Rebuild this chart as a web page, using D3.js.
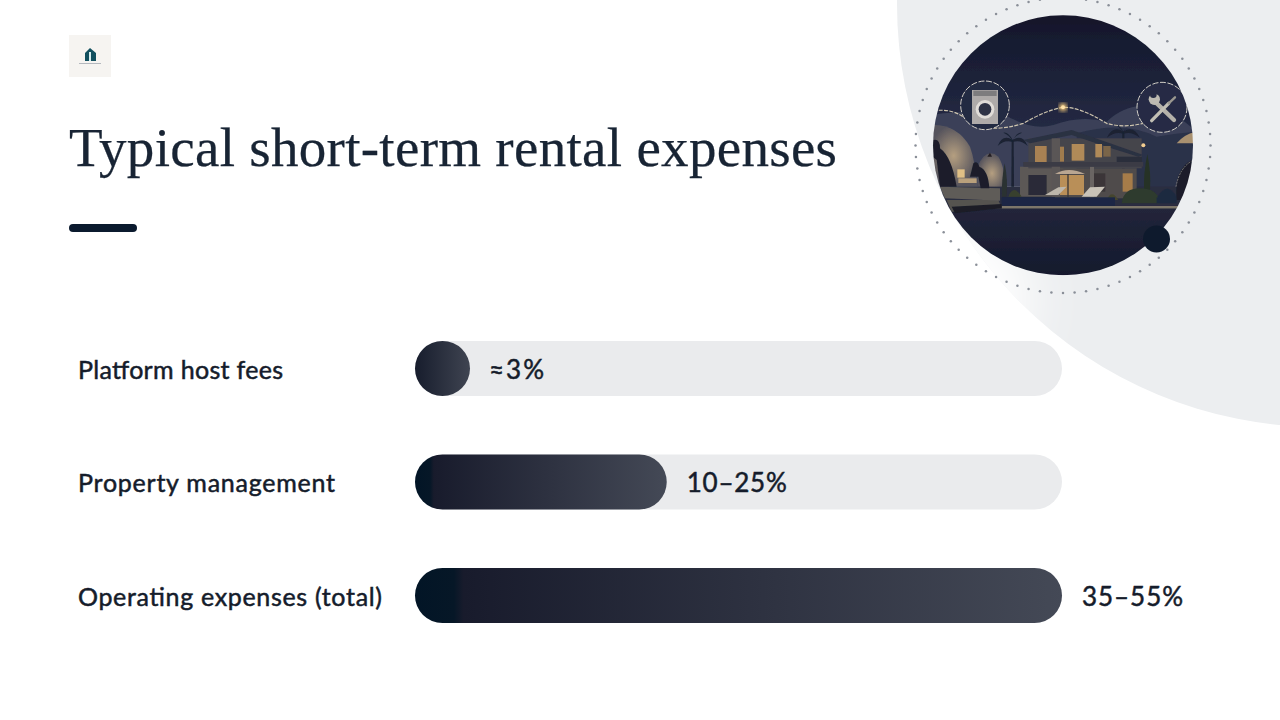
<!DOCTYPE html>
<html><head><meta charset="utf-8">
<style>html,body{margin:0;padding:0;background:#fff;overflow:hidden}svg{display:block}</style>
<script src="https://cdnjs.cloudflare.com/ajax/libs/d3/7.8.5/d3.min.js"></script>
</head><body><svg id="c" width="1280" height="720" viewBox="0 0 1280 720"></svg>
<script>
const titleText = "Typical short-term rental expenses";
const categories = ["Platform host fees", "Property management", "Operating expenses (total)"];
const barValues = [3, 21.4, 55];
const valueLabels = ["≈3%", "10–25%", "35–55%"];
const domainMax = 55;

const svg = d3.select("#c");
const defs = svg.append("defs");

// Bar gradient
const g1 = defs.append("linearGradient").attr("id","barGrad");
g1.append("stop").attr("offset","0%").attr("stop-color","#021526");
g1.append("stop").attr("offset","6%").attr("stop-color","#061727");
g1.append("stop").attr("offset","7.5%").attr("stop-color","#181b2c");
g1.append("stop").attr("offset","100%").attr("stop-color","#444956");
const g1b = defs.append("linearGradient").attr("id","barGradS");
g1b.append("stop").attr("offset","0%").attr("stop-color","#171d2d");
g1b.append("stop").attr("offset","100%").attr("stop-color","#3f4451");

// Background disc with soft white fade at its lower left
defs.append("clipPath").attr("id","bgClip").append("circle").attr("cx",1320).attr("cy",4).attr("r",423);
defs.append("filter").attr("id","fade").attr("x","-100%").attr("y","-100%").attr("width","300%").attr("height","300%")
  .append("feGaussianBlur").attr("stdDeviation",26);
svg.append("circle").attr("cx",1320).attr("cy",4).attr("r",423).attr("fill","#eceef0");
svg.append("g").attr("clip-path","url(#bgClip)").append("ellipse").attr("cx",945).attr("cy",300).attr("rx",85).attr("ry",85)
  .attr("fill","#ffffff").attr("filter","url(#fade)");

// Dotted ring
const ring = d3.range(80).map(i => i/80*2*Math.PI);
svg.append("g").selectAll("circle").data(ring).join("circle")
  .attr("cx",d=>1063+147.5*Math.cos(d)).attr("cy",d=>145.5+147.5*Math.sin(d))
  .attr("r",1.25).attr("fill","#8a8f98");

// Illustration, in a 3x working space
defs.append("clipPath").attr("id","photoClip").append("circle").attr("cx",519).attr("cy",436).attr("r",390);
defs.append("filter").attr("id","soft").append("feGaussianBlur").attr("stdDeviation",2);
defs.append("filter").attr("id","glow").append("feGaussianBlur").attr("stdDeviation",7);
const sky = defs.append("linearGradient").attr("id","sky").attr("x1",0).attr("y1",0).attr("x2",0).attr("y2",1);
sky.append("stop").attr("offset","0%").attr("stop-color","#12162a");
sky.append("stop").attr("offset","100%").attr("stop-color","#272d48");
const wall = defs.append("radialGradient").attr("id","warm");
wall.append("stop").attr("offset","0%").attr("stop-color","#b59f80");
wall.append("stop").attr("offset","100%").attr("stop-color","#55535c");
const groundG = defs.append("linearGradient").attr("id","ground").attr("x1",0).attr("y1",0).attr("x2",0).attr("y2",1);
groundG.append("stop").attr("offset","0%").attr("stop-color","#22253a");
groundG.append("stop").attr("offset","100%").attr("stop-color","#14192d");

const art = svg.append("g").attr("transform","translate(890,0) scale(0.33333)");
const p = art.append("g").attr("clip-path","url(#photoClip)").append("g").attr("filter","url(#soft)");
const rect=(x,y,w,h,f)=>p.append("rect").attr("x",x).attr("y",y).attr("width",w).attr("height",h).attr("fill",f);
const path=(d,f)=>p.append("path").attr("d",d).attr("fill",f);

rect(120,40,800,400,"url(#sky)");
path("M120 345 Q230 330 330 335 Q420 395 490 375 Q570 345 650 365 Q720 300 800 325 Q860 340 920 395 L920 560 L120 560Z","#3a4058");
path("M560 400 Q700 360 800 410 Q860 400 920 395 L920 620 L560 620Z","#2b3149");
path("M120 375 Q200 370 240 440 Q255 480 262 560 L120 560Z","url(#warm)");
path("M262 500 Q290 440 325 470 Q345 500 350 580 L262 580Z","url(#warm)");
path("M860 430 Q885 400 920 395 L920 430Z","#a9916f");
rect(120,560,800,70,"#2a2d40");
// Palms
[[368,420,1],[700,395,1.1]].forEach(([x,y,s])=>{
  path(`M${x-3} ${y} L${x+3} ${y} L${x+4} ${y+140} L${x-4} ${y+140}Z`,"#1a2233");
  path(`M${x} ${y} Q${x-30} ${y-20} ${x-45*s} ${y+18} Q${x-25} ${y-2} ${x} ${y+6} Q${x+25} ${y-2} ${x+45*s} ${y+18} Q${x+30} ${y-20} ${x} ${y}Z`,"#1a2233");
  path(`M${x} ${y} Q${x-14} ${y-26} ${x-28} ${y-22} Q${x-10} ${y-15} ${x} ${y+4} Q${x+14} ${y-26} ${x+28} ${y-22} Q${x+10} ${y-15} ${x} ${y}Z`,"#1a2233");
});
// House
rect(390,500,130,90,"#5c5856");
rect(415,525,55,60,"#2a2c38");
rect(415,415,340,90,"#45444c");
path("M400 420 L545 390 L660 430 L760 465 L745 470 L650 440 L545 405 L420 430Z","#2b3042");
rect(495,505,245,90,"#504c4c");
rect(500,525,82,60,"#b98f58");
rect(612,520,34,55,"#3a3538");
rect(698,520,30,55,"#a67c4a");
rect(435,438,35,55,"#a98252");
rect(510,440,12,45,"#a07c4e");
rect(545,432,38,50,"#b08a58");
rect(616,432,20,40,"#b08a58");
rect(640,438,22,32,"#7a6548");
rect(485,415,25,175,"#5a5656");
rect(600,500,12,92,"#6a6563");
rect(680,470,76,16,"#2a2d3b");
rect(400,486,360,14,"#3a3a44");
path("M495 522 Q535 498 585 522Z","#b9a692");
rect(532,522,4,70,"#3b3638");
// Cypress and shrubs
path("M772 462 Q784 520 780 570 L762 570 Q760 520 772 462Z","#263228");
path("M344 490 Q354 540 350 590 L336 590 Q334 540 344 490Z","#2a3030");
path("M695 610 Q700 565 750 565 Q805 565 810 610Z","#2d3a2e");
path("M355 590 Q370 550 395 590Z","#39402f");
path("M650 600 Q665 565 685 600Z","#45452e");
path("M800 595 Q830 540 860 590 L860 610 L800 610Z","#1f2c40");
// Loungers
path("M465 585 L505 585 L530 560 L505 562Z","#bdb7ac");
path("M575 590 L620 590 L645 560 L600 562Z","#c9c3b8");
// Pool and deck
rect(335,592,340,32,"#1c2844");
rect(335,618,540,8,"#7d776a");
// Ground
rect(120,626,800,200,"url(#ground)");
path("M170 600 L325 600 L335 625 L185 635Z","#55524f");
path("M150 560 L330 565 L330 602 L165 595Z","#5f5c59");
path("M185 620 L335 612 L335 625 L195 640Z","#1a1d28");
// Figures
path("M130 420 Q150 415 150 445 Q185 470 200 560 L150 560 L140 480 L128 470Z","#1b1f2c");
path("M250 490 Q262 480 268 500 Q295 510 298 565 L272 565 L265 530 L240 530Z","#1b1f2c");
rect(202,508,22,25,"#e0bf85");
rect(205,535,55,14,"#b9a07c");
path("M292 470 L306 470 L300 458Z","#221e22");
path("M860 600 Q850 510 905 480 L905 600Z","#1b1e2b");
path("M858 560 Q868 505 905 483","none").attr("stroke","#a9a59c").attr("stroke-width",2).attr("stroke-dasharray","6 3");
// Wave
path("M130 332 Q190 325 225 355 Q290 405 400 370 Q470 330 519 322 Q570 320 650 370 Q700 385 760 370","none")
  .attr("stroke","#cfc5af").attr("stroke-width",3.5).attr("stroke-dasharray","12 4");
path("M855 370 Q880 360 890 320","none").attr("stroke","#cfc5af").attr("stroke-width",3.5).attr("stroke-dasharray","12 4");
p.append("circle").attr("cx",519).attr("cy",322).attr("r",12).attr("fill","#f5c878").attr("filter","url(#glow)");
p.append("circle").attr("cx",519).attr("cy",322).attr("r",6).attr("fill","#ffe2a8");
p.append("circle").attr("cx",760).attr("cy",436).attr("r",6).attr("fill","#f1cc90");
// Washer
p.append("circle").attr("cx",285).attr("cy",316).attr("r",73).attr("fill","#232a42").attr("stroke","#d4d0c8").attr("stroke-width",3).attr("stroke-dasharray","18 5");
rect(246,270,78,102,"#aeaaa9");
rect(250,272,70,16,"#7d7b7e");
p.append("circle").attr("cx",285).attr("cy",328).attr("r",28).attr("fill","#e0dcd8");
p.append("circle").attr("cx",285).attr("cy",328).attr("r",19).attr("fill","#2d3044");
// Tools
p.append("circle").attr("cx",816).attr("cy",322).attr("r",75).attr("fill","#262c44").attr("stroke","#d4d0c8").attr("stroke-width",3).attr("stroke-dasharray","18 5");
const tool=(d,w,c)=>path(d,"none").attr("stroke",c).attr("stroke-width",w).attr("stroke-linecap","round");
tool("M795 305 L852 360",13,"#b5b2aa");
tool("M785 362 L836 310",10,"#c2bfb5");
tool("M836 310 L855 292",7,"#9b9890");
p.append("circle").attr("cx",793).attr("cy",298).attr("r",17).attr("fill","#bdbab2");
p.append("circle").attr("cx",790).attr("cy",284).attr("r",10).attr("fill","#262c44");

// Dark accent dot
svg.append("circle").attr("cx",1156.5).attr("cy",239).attr("r",13.5).attr("fill","#0e1a2d");

// Logo
svg.append("rect").attr("x",69).attr("y",35).attr("width",42).attr("height",42).attr("fill","#f6f4f1");
const logo = svg.append("g");
logo.append("path").attr("d","M90 48 L96 53 L96 61 L85 61 L85 53Z").attr("fill","#12505f");
logo.append("rect").attr("x",89).attr("y",52).attr("width",2).attr("height",9).attr("fill","#d8eef0");
logo.append("rect").attr("x",79).attr("y",63).attr("width",22).attr("height",1).attr("fill","#b4b8be");

// Title and rule
svg.append("text").attr("x",69).attr("y",165.5).attr("font-family","'Liberation Serif',serif").attr("font-size",55)
  .attr("fill","#182434").attr("stroke","#182434").attr("stroke-width",0.25)
  .attr("textLength",768).attr("lengthAdjust","spacing").text(titleText);
svg.append("rect").attr("x",69).attr("y",224).attr("width",68).attr("height",8).attr("rx",4).attr("fill","#0b1a2e");

// Bars
const trackX = 415, trackW = 647, barH = 55;
const x = d3.scaleLinear().domain([0,domainMax]).range([0,trackW]);
const y = d3.scalePoint().domain(categories).range([341,568]);
const rows = svg.append("g").selectAll("g").data(categories.map((c,i)=>({c,v:barValues[i],l:valueLabels[i]}))).join("g")
  .attr("transform",d=>`translate(0,${y(d.c)})`);
rows.append("rect").attr("x",trackX).attr("width",x(domainMax)).attr("height",barH).attr("rx",barH/2).attr("fill","#eaebed");
rows.append("rect").attr("x",trackX).attr("width",d=>Math.max(barH,x(d.v))).attr("height",barH).attr("rx",barH/2)
  .attr("fill",d=>x(d.v)<barH?"url(#barGradS)":"url(#barGrad)");
const lblLen = [205,257,304], valLen = [55,100,101];
const font = "Lato,'Open Sans',sans-serif";
rows.append("text").attr("x",78).attr("y",barH/2+10).attr("font-family",font).attr("font-size",25).attr("font-weight",400)
  .attr("fill","#151c2b").attr("stroke","#151c2b").attr("stroke-width",0.5)
  .attr("textLength",(d,i)=>lblLen[i]).attr("lengthAdjust","spacing").text(d=>d.c);
rows.append("text").attr("x",d=>trackX+Math.max(barH,x(d.v))+ (x(d.v)<barH?19:20)).attr("y",barH/2+10).attr("font-family",font).attr("font-size",26).attr("font-weight",400)
  .attr("fill","#151c2b").attr("stroke","#151c2b").attr("stroke-width",0.5)
  .attr("textLength",(d,i)=>valLen[i]).attr("lengthAdjust","spacing").text(d=>d.l);
</script></body></html>
